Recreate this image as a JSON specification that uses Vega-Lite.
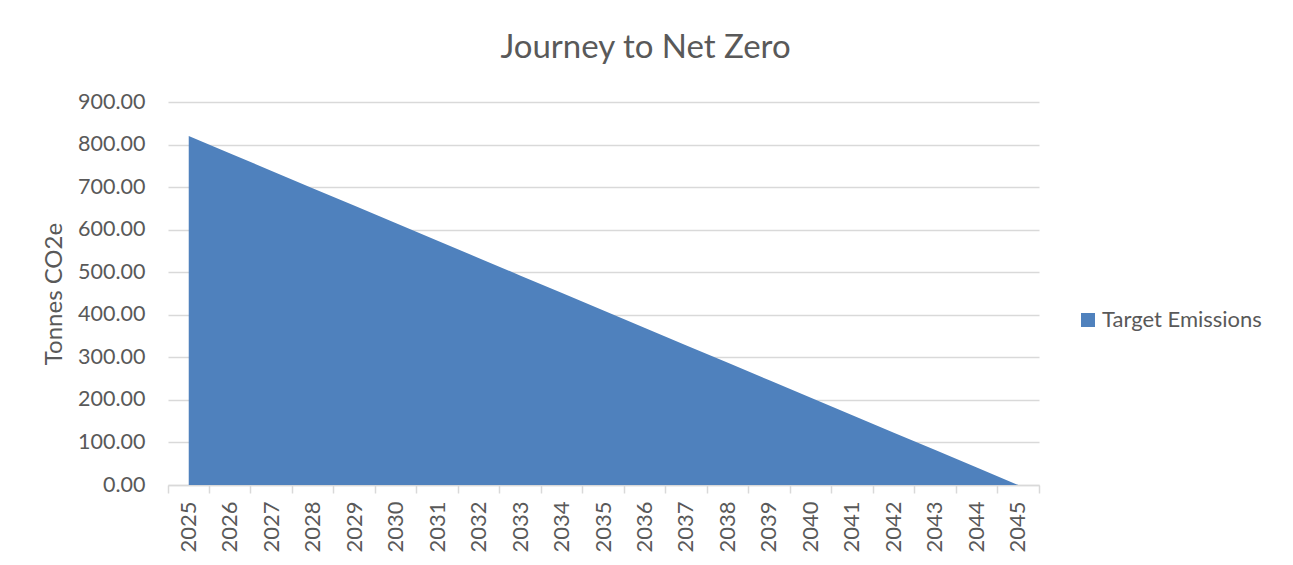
{
  "$schema": "https://vega.github.io/schema/vega-lite/v6.json",
  "width": 871,
  "height": 383,
  "autosize": "none",
  "padding": {"left": 168, "top": 102, "right": 254, "bottom": 80},
  "background": "white",
  "title": {
    "text": "Journey to Net Zero",
    "font": "Lato",
    "fontSize": 33,
    "fontWeight": "normal",
    "color": "#595959",
    "anchor": "middle",
    "dx": 42,
    "offset": 26
  },
  "data": {
    "values": [
      {"year": "2025", "value": 820, "series": "Target Emissions"},
      {"year": "2026", "value": 779, "series": "Target Emissions"},
      {"year": "2027", "value": 738, "series": "Target Emissions"},
      {"year": "2028", "value": 697, "series": "Target Emissions"},
      {"year": "2029", "value": 656, "series": "Target Emissions"},
      {"year": "2030", "value": 615, "series": "Target Emissions"},
      {"year": "2031", "value": 574, "series": "Target Emissions"},
      {"year": "2032", "value": 533, "series": "Target Emissions"},
      {"year": "2033", "value": 492, "series": "Target Emissions"},
      {"year": "2034", "value": 451, "series": "Target Emissions"},
      {"year": "2035", "value": 410, "series": "Target Emissions"},
      {"year": "2036", "value": 369, "series": "Target Emissions"},
      {"year": "2037", "value": 328, "series": "Target Emissions"},
      {"year": "2038", "value": 287, "series": "Target Emissions"},
      {"year": "2039", "value": 246, "series": "Target Emissions"},
      {"year": "2040", "value": 205, "series": "Target Emissions"},
      {"year": "2041", "value": 164, "series": "Target Emissions"},
      {"year": "2042", "value": 123, "series": "Target Emissions"},
      {"year": "2043", "value": 82, "series": "Target Emissions"},
      {"year": "2044", "value": 41, "series": "Target Emissions"},
      {"year": "2045", "value": 0, "series": "Target Emissions"}
    ]
  },
  "mark": {"type": "area", "opacity": 1},
  "encoding": {
    "x": {
      "field": "year",
      "type": "ordinal",
      "bandPosition": 0.5,
      "scale": {"type": "band", "paddingInner": 0, "paddingOuter": 0},
      "axis": {
        "title": null,
        "labelAngle": -90,
        "labelAlign": "right",
        "labelBaseline": "middle",
        "labelFont": "Lato",
        "labelFontSize": 22,
        "labelColor": "#595959",
        "labelPadding": 8,
        "domainColor": "#D9D9D9",
        "domainWidth": 1.5,
        "tickColor": "#D9D9D9",
        "tickWidth": 1.5,
        "tickSize": 8,
        "bandPosition": 1,
        "tickExtra": true,
        "grid": false
      }
    },
    "y": {
      "field": "value",
      "type": "quantitative",
      "scale": {"domain": [0, 900], "nice": false},
      "axis": {
        "title": "Tonnes CO2e",
        "titleFont": "Lato",
        "titleFontSize": 24,
        "titleFontWeight": "normal",
        "titleColor": "#595959",
        "titlePadding": 11,
        "values": [0, 100, 200, 300, 400, 500, 600, 700, 800, 900],
        "format": ".2f",
        "labelFont": "Lato",
        "labelFontSize": 21.5,
        "labelColor": "#595959",
        "labelPadding": 23,
        "domain": false,
        "ticks": false,
        "grid": true,
        "gridColor": "#D9D9D9",
        "gridWidth": 1.5
      }
    },
    "color": {
      "field": "series",
      "type": "nominal",
      "scale": {"range": ["#4F81BD"]},
      "legend": {
        "title": null,
        "orient": "none",
        "legendX": 909,
        "legendY": 207,
        "symbolType": "square",
        "symbolSize": 196,
        "symbolStrokeWidth": 0,
        "labelFont": "Lato",
        "labelFontSize": 22,
        "labelColor": "#595959",
        "labelOffset": 3
      }
    }
  },
  "config": {
    "view": {"stroke": null}
  }
}
